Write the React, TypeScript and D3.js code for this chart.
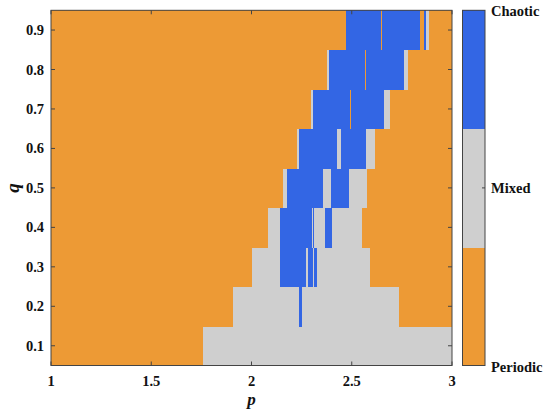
import React from "react";
import * as d3 from "d3";

// q rows (each row spans q ± 0.05)
const qValues = [0.1, 0.2, 0.3, 0.4, 0.5, 0.6, 0.7, 0.8, 0.9];
// state codes: 0 = Periodic, 1 = Mixed, 2 = Chaotic
const stateNames = ["Periodic", "Mixed", "Chaotic"];
const stateColors = ["#ED9A35", "#CFCFCF", "#3366E4"];

// p breakpoints and states per row (segment i spans breaks[i]..breaks[i+1])
const row01Breaks = [1, 1.757, 3];
const row01States = [0, 1];
const row02Breaks = [1, 1.906, 2.236, 2.254, 2.736, 3];
const row02States = [0, 1, 2, 1, 0];
const row03Breaks = [1, 2.004, 2.142, 2.27, 2.28, 2.305, 2.312, 2.325, 2.591, 3];
const row03States = [0, 1, 2, 1, 2, 1, 2, 1, 0];
const row04Breaks = [1, 2.082, 2.142, 2.3, 2.305, 2.313, 2.367, 2.4, 2.553, 3];
const row04States = [0, 1, 2, 1, 2, 1, 2, 1, 0];
const row05Breaks = [1, 2.155, 2.175, 2.359, 2.396, 2.485, 2.575, 3];
const row05States = [0, 1, 2, 1, 2, 1, 0];
const row06Breaks = [1, 2.226, 2.236, 2.425, 2.445, 2.571, 2.614, 3];
const row06States = [0, 1, 2, 1, 2, 1, 0];
const row07Breaks = [1, 2.295, 2.305, 2.491, 2.498, 2.663, 2.691, 3];
const row07States = [0, 1, 2, 0, 2, 1, 0];
const row08Breaks = [1, 2.378, 2.387, 2.568, 2.573, 2.762, 2.779, 3];
const row08States = [0, 1, 2, 0, 2, 1, 0];
const row09Breaks = [1, 2.47, 2.646, 2.651, 2.84, 2.858, 2.868, 2.887, 3];
const row09States = [0, 2, 0, 2, 0, 2, 1, 0];

const rowBreaks = [row01Breaks, row02Breaks, row03Breaks, row04Breaks, row05Breaks, row06Breaks, row07Breaks, row08Breaks, row09Breaks];
const rowStates = [row01States, row02States, row03States, row04States, row05States, row06States, row07States, row08States, row09States];

const xTicks = [1, 1.5, 2, 2.5, 3];
const yTicks = [0.1, 0.2, 0.3, 0.4, 0.5, 0.6, 0.7, 0.8, 0.9];

const W = 550;
const H = 414;
const L = 51, R = 452, T = 10.3, B = 365.5;
const CB_L = 462.5, CB_R = 485;

export default function App() {
  const x = d3.scaleLinear().domain([1, 3]).range([L, R]);
  const y = d3.scaleLinear().domain([0.05, 0.95]).range([B, T]);
  const cb = d3.scaleLinear().domain([0, 3]).range([B, T]);

  const cells: any[] = [];
  qValues.forEach((q, ri) => {
    const br = rowBreaks[ri];
    const st = rowStates[ri];
    for (let i = 0; i < st.length; i++) {
      const x0 = x(br[i]);
      const x1 = x(br[i + 1]);
      const y0 = y(q + 0.05);
      const y1 = y(q - 0.05);
      cells.push(
        <rect
          key={`${ri}-${i}`}
          x={x0}
          y={y0}
          width={Math.max(x1 - x0, 1)}
          height={y1 - y0 + 0.6}
          fill={stateColors[st[i]]}
        />
      );
    }
  });

  const font = "'Liberation Serif', 'Times New Roman', serif";
  const axisColor = "#444";
  const tickLen = 4;

  return (
    <svg
      width={W}
      height={H}
      style={{ position: "fixed", left: 0, top: 0, background: "#fff" }}
      fontFamily={font}
    >
      <rect x={0} y={0} width={W} height={H} fill="#fff" />
      <g shapeRendering="crispEdges">{cells}</g>
      {/* frame */}
      <rect x={L} y={T} width={R - L} height={B - T} fill="none" stroke={axisColor} strokeWidth={1} />
      {/* x ticks */}
      {xTicks.map((t) => (
        <g key={`xt${t}`}>
          <line x1={x(t)} x2={x(t)} y1={B} y2={B - tickLen} stroke={axisColor} />
          <line x1={x(t)} x2={x(t)} y1={T} y2={T + tickLen} stroke={axisColor} />
          <text x={x(t)} y={386} textAnchor="middle" fontSize={14.5} fontWeight="bold" fill="#111">
            {t}
          </text>
        </g>
      ))}
      {/* y ticks */}
      {yTicks.map((t) => (
        <g key={`yt${t}`}>
          <line x1={L} x2={L + tickLen} y1={y(t)} y2={y(t)} stroke={axisColor} />
          <line x1={R} x2={R - tickLen} y1={y(t)} y2={y(t)} stroke={axisColor} />
          <text x={44} y={y(t) + 5} textAnchor="end" fontSize={14.5} fontWeight="bold" fill="#111">
            {t.toFixed(1)}
          </text>
        </g>
      ))}
      {/* axis labels */}
      <text x={x(2)} y={405} textAnchor="middle" fontSize={17} fontWeight="bold" fontStyle="italic" fill="#111">
        p
      </text>
      <text
        transform={`translate(19, ${y(0.5)}) rotate(-90)`}
        textAnchor="middle"
        fontSize={19}
        fontWeight="bold"
        fontStyle="italic"
        fill="#111"
      >
        q
      </text>
      {/* colorbar */}
      <g shapeRendering="crispEdges">
        {stateColors.map((c, i) => (
          <rect key={`cb${i}`} x={CB_L} y={cb(i + 1)} width={CB_R - CB_L} height={cb(i) - cb(i + 1) + 0.6} fill={c} />
        ))}
      </g>
      <rect x={CB_L} y={T} width={CB_R - CB_L} height={B - T} fill="none" stroke={axisColor} strokeWidth={1} />
      <line x1={CB_R} x2={CB_R - 3} y1={cb(1.5)} y2={cb(1.5)} stroke={axisColor} />
      {stateNames.map((n, i) => {
        const yy = i === 0 ? B + 6 : i === 2 ? T + 6 : cb(1.5) + 5;
        return (
          <text key={n} x={491} y={yy} fontSize={14.5} fontWeight="bold" fill="#111">
            {n}
          </text>
        );
      })}
    </svg>
  );
}
